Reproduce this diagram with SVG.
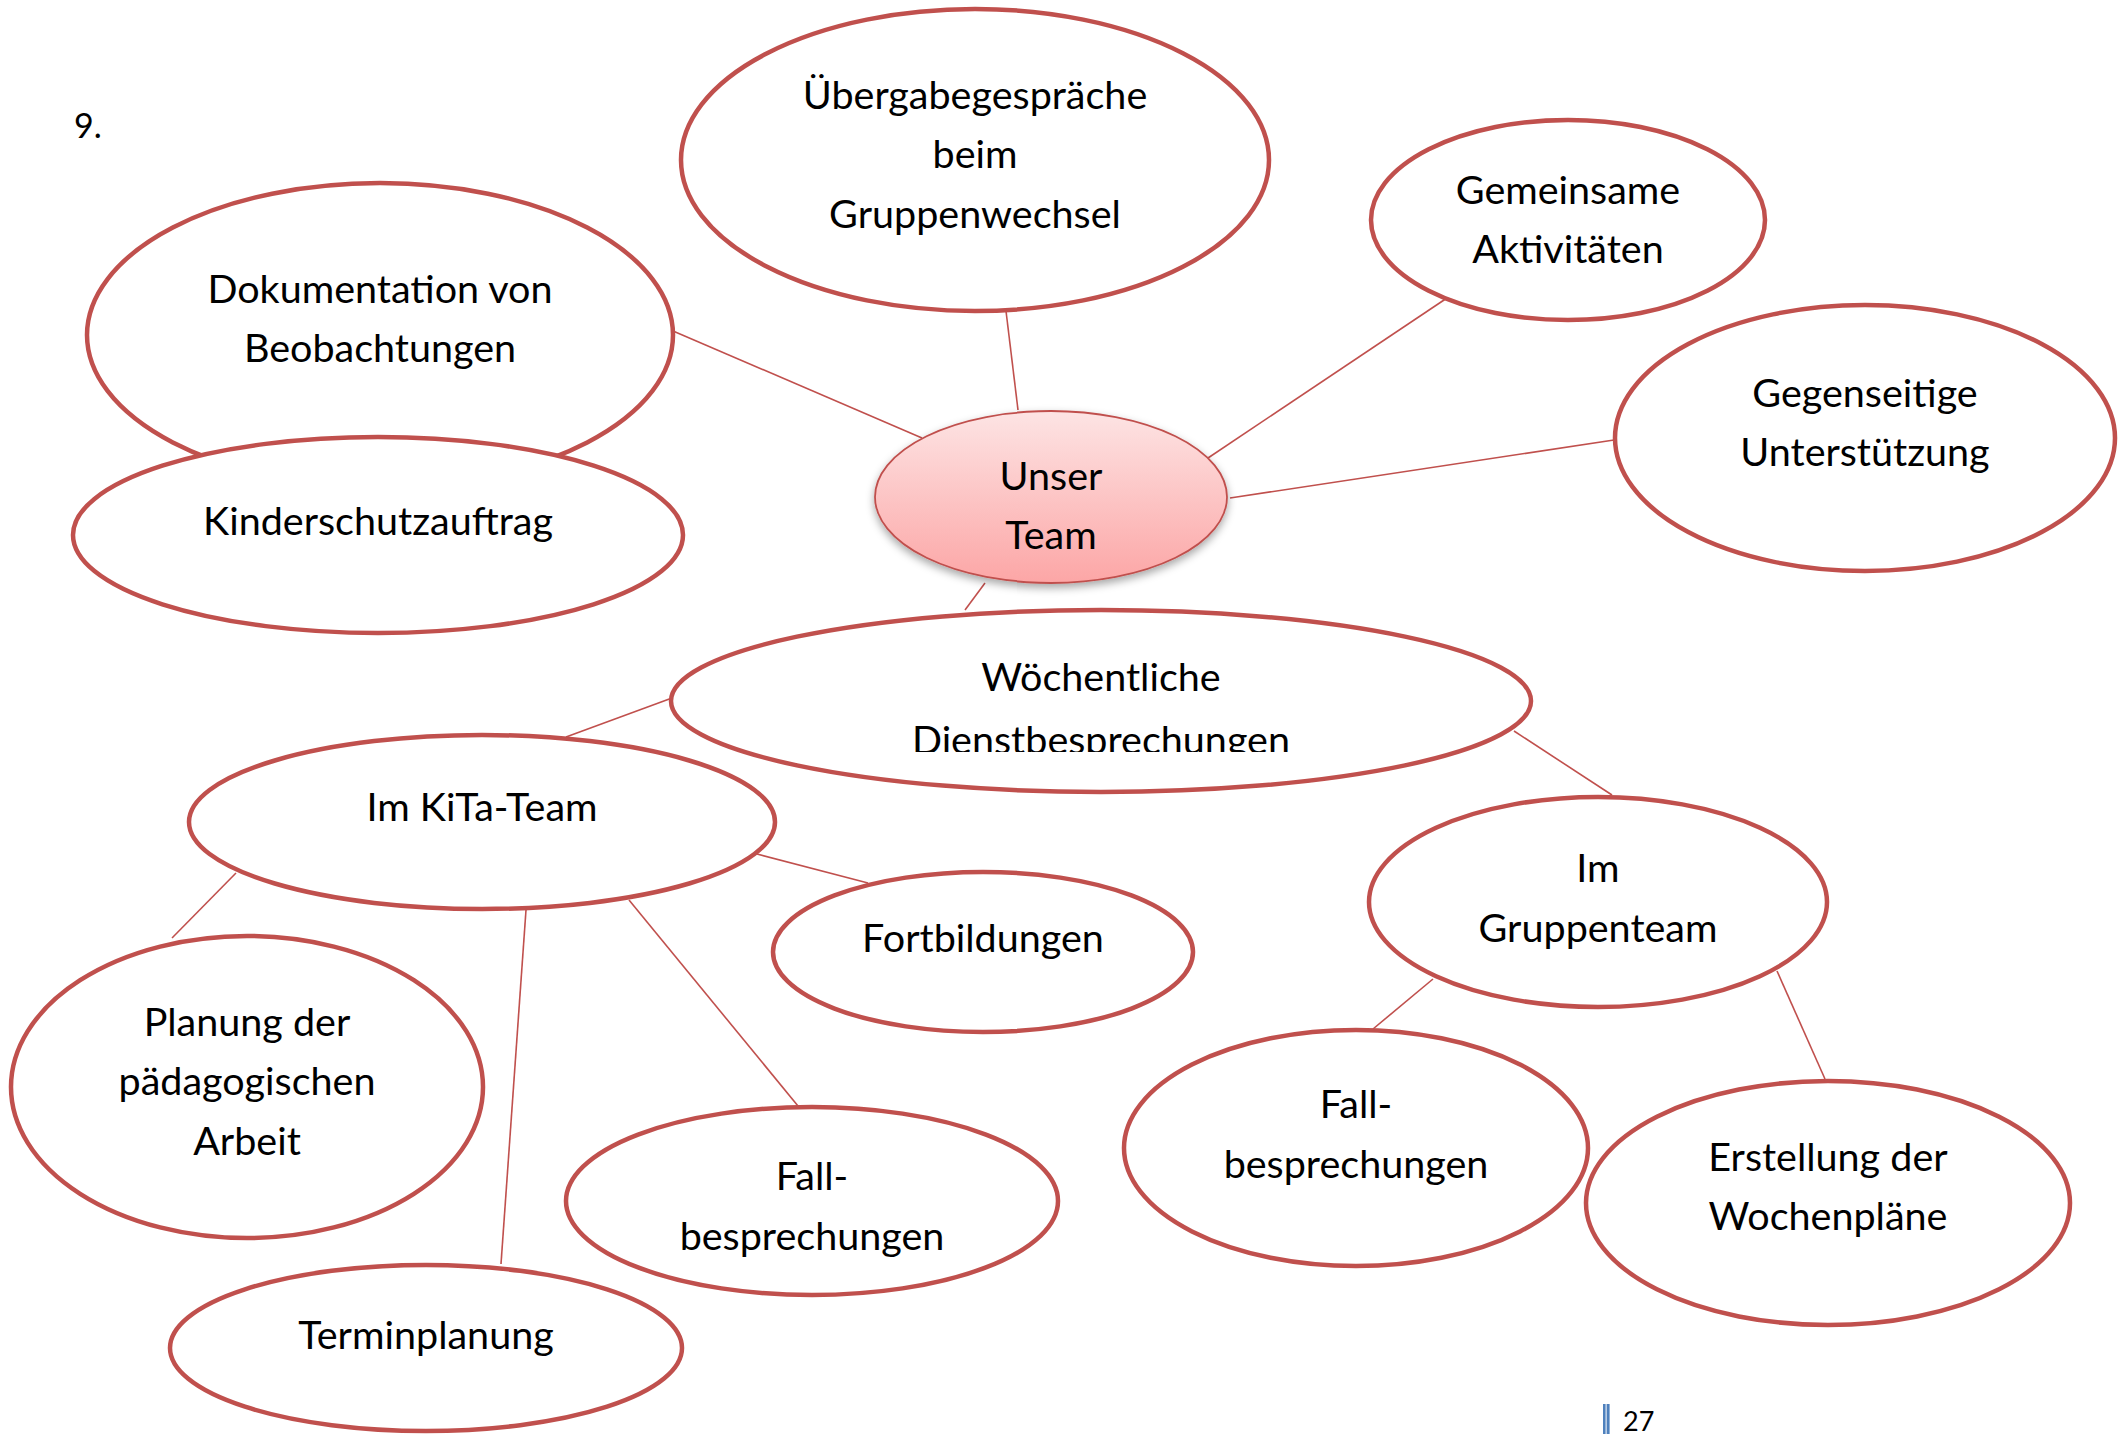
<svg xmlns="http://www.w3.org/2000/svg" width="2123" height="1434" viewBox="0 0 2123 1434">
<style>
.n{fill:#fff;stroke:#C0504D;stroke-width:4.5}
.c{stroke:#C0504D;stroke-width:1.6;fill:none}
.t{font-family:Lato,"Liberation Sans",sans-serif;font-size:39.5px;fill:#000;text-anchor:middle}
</style>
<defs>
<linearGradient id="g" x1="0" y1="0" x2="0" y2="1">
<stop offset="0" stop-color="#FDE4E4"/>
<stop offset="1" stop-color="#FCA6A6"/>
</linearGradient>
<filter id="sh" x="-20%" y="-20%" width="140%" height="150%">
<feDropShadow dx="0" dy="4" stdDeviation="4" flood-color="#000" flood-opacity="0.35"/>
</filter>
<clipPath id="clipW"><rect x="600" y="600" width="1000" height="152"/></clipPath>
</defs>
<rect width="2123" height="1434" fill="#fff"/>
<text x="74" y="138" style="font-family:Lato,'Liberation Sans',sans-serif;font-size:34px">9.</text>
<g id="connectors">
<line class="c" x1="673" y1="331" x2="922" y2="438"/>
<line class="c" x1="1006" y1="311" x2="1018" y2="410"/>
<line class="c" x1="1450" y1="296" x2="1208" y2="458"/>
<line class="c" x1="1614" y1="440" x2="1230" y2="498"/>
<line class="c" x1="985" y1="583" x2="965" y2="610"/>
<line class="c" x1="672" y1="698" x2="566" y2="737"/>
<line class="c" x1="1514" y1="731" x2="1612" y2="795"/>
<line class="c" x1="236" y1="873" x2="172" y2="938"/>
<line class="c" x1="526" y1="910" x2="501" y2="1264"/>
<line class="c" x1="629" y1="900" x2="798" y2="1106"/>
<line class="c" x1="757" y1="854" x2="868" y2="883"/>
<line class="c" x1="1433" y1="979" x2="1373" y2="1029"/>
<line class="c" x1="1777" y1="971" x2="1825" y2="1079"/>
</g>
<g id="n-dokumentation">
<ellipse class="n" cx="380" cy="335" rx="293" ry="152"/>
<text class="t" x="380" y="303">Dokumentation von</text>
<text class="t" x="380" y="362">Beobachtungen</text>
</g>
<g id="n-kinderschutz">
<ellipse class="n" cx="378" cy="535" rx="305" ry="98"/>
<text class="t" x="378" y="535">Kinderschutzauftrag</text>
</g>
<g id="n-uebergabe">
<ellipse class="n" cx="975" cy="160" rx="294" ry="151"/>
<text class="t" x="975" y="109">Übergabegespräche</text>
<text class="t" x="975" y="168">beim</text>
<text class="t" x="975" y="228">Gruppenwechsel</text>
</g>
<g id="n-gemeinsame">
<ellipse class="n" cx="1568" cy="220" rx="197" ry="100"/>
<text class="t" x="1568" y="204">Gemeinsame</text>
<text class="t" x="1568" y="263">Aktivitäten</text>
</g>
<g id="n-gegenseitige">
<ellipse class="n" cx="1865" cy="438" rx="250" ry="133"/>
<text class="t" x="1865" y="407">Gegenseitige</text>
<text class="t" x="1865" y="466">Unterstützung</text>
</g>
<g id="n-unser-team">
<ellipse cx="1051" cy="497" rx="176" ry="86" fill="url(#g)" stroke="#C0504D" stroke-width="1.8" filter="url(#sh)"/>
<text class="t" x="1051" y="490">Unser</text>
<text class="t" x="1051" y="549">Team</text>
</g>
<g id="n-woechentliche">
<ellipse class="n" cx="1101" cy="701" rx="430" ry="91"/>
<text class="t" x="1101" y="691">Wöchentliche</text>
<text class="t" x="1101" y="754" clip-path="url(#clipW)">Dienstbesprechungen</text>
</g>
<g id="n-kita-team">
<ellipse class="n" cx="482" cy="822" rx="293" ry="87"/>
<text class="t" x="482" y="821">Im KiTa-Team</text>
</g>
<g id="n-fortbildungen">
<ellipse class="n" cx="983" cy="952" rx="210" ry="80"/>
<text class="t" x="983" y="952">Fortbildungen</text>
</g>
<g id="n-planung">
<ellipse class="n" cx="247" cy="1087" rx="236" ry="151"/>
<text class="t" x="247" y="1036">Planung der</text>
<text class="t" x="247" y="1095">pädagogischen</text>
<text class="t" x="247" y="1155">Arbeit</text>
</g>
<g id="n-fall-kita">
<ellipse class="n" cx="812" cy="1201" rx="246" ry="94"/>
<text class="t" x="812" y="1190">Fall-</text>
<text class="t" x="812" y="1250">besprechungen</text>
</g>
<g id="n-terminplanung">
<ellipse class="n" cx="426" cy="1348" rx="256" ry="83"/>
<text class="t" x="426" y="1349">Terminplanung</text>
</g>
<g id="n-gruppenteam">
<ellipse class="n" cx="1598" cy="902" rx="229" ry="105"/>
<text class="t" x="1598" y="882">Im</text>
<text class="t" x="1598" y="942">Gruppenteam</text>
</g>
<g id="n-fall-gruppe">
<ellipse class="n" cx="1356" cy="1148" rx="232" ry="118"/>
<text class="t" x="1356" y="1118">Fall-</text>
<text class="t" x="1356" y="1178">besprechungen</text>
</g>
<g id="n-erstellung">
<ellipse class="n" cx="1828" cy="1203" rx="242" ry="122"/>
<text class="t" x="1828" y="1171">Erstellung der</text>
<text class="t" x="1828" y="1230">Wochenpläne</text>
</g>
<g id="page-number">
<rect x="1603" y="1404" width="2.6" height="30" fill="#4F81BD"/>
<rect x="1606.6" y="1404" width="3" height="30" fill="#4F81BD"/>
<text x="1623" y="1431" style="font-family:Lato,'Liberation Sans',sans-serif;font-size:27px">27</text>
</g>
</svg>
